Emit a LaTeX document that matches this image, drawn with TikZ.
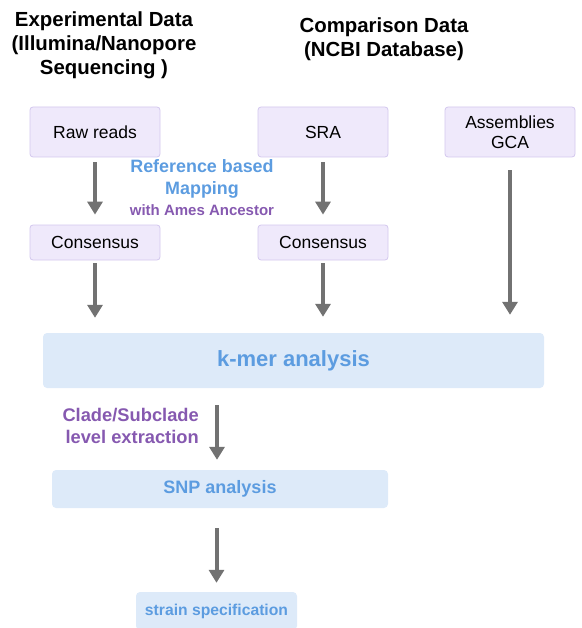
\documentclass[tikz,border=0pt]{standalone}
\usepackage{fontspec}
\setmainfont{Liberation Sans}
\usetikzlibrary{arrows.meta, positioning, calc}

\definecolor{lilacfill}{HTML}{EFE9FB}
\definecolor{lilacline}{HTML}{D3C7EE}
\definecolor{skyfill}{HTML}{DDEAF9}
\definecolor{skytext}{HTML}{5C9CE0}
\definecolor{plumtext}{HTML}{8659B0}
\definecolor{shaftgray}{HTML}{727272}

\begin{document}
\begin{tikzpicture}[
	x=1pt, y=-1pt,
	every node/.style={inner sep=0pt},
	title/.style={align=center, font=\fontsize{20.4}{24}\selectfont\bfseries},
	source/.style={rectangle, draw=lilacline, line width=0.8pt, fill=lilacfill, rounded corners=3pt, minimum width=130pt, align=center, font=\fontsize{17.5}{20}\selectfont},
	stage/.style={rectangle, fill=skyfill, rounded corners=4pt, text=skytext, align=center},
	flow/.style={draw=shaftgray, line width=4pt, -{Triangle[width=15pt,length=13pt]}}
]
\useasboundingbox (0,0) rectangle (581,628);

% Column headings
\node[title] (expTitle) at (104,45) {Experimental Data\\(Illumina/Nanopore\\Sequencing )};
\node[title] (cmpTitle) at (384,39) {Comparison Data\\(NCBI Database)};

% Input data
\node[source, minimum height=50pt] (rawReads) at (95,132) {Raw reads};
\node[source, minimum height=50pt] (sra) at (323,132) {SRA};
\node[source, minimum height=50pt] (gca) at (510,132) {Assemblies\\GCA};
\node[source, minimum height=35pt] (consA) at (95,242.5) {Consensus};
\node[source, minimum height=35pt] (consB) at (323,242.5) {Consensus};

% Mapping note
\node[align=center, text=skytext, font=\fontsize{17.9}{22}\selectfont\bfseries] (mapNote) at (202,179) {Reference based\\Mapping};
\node[text=plumtext, font=\fontsize{15}{17}\selectfont\bfseries] (ancNote) at (202,210) {with Ames Ancestor};

% Analysis stages
\node[stage, minimum width=501pt, minimum height=55pt, font=\fontsize{22}{26}\selectfont\bfseries] (kmer) at (293.5,360.5) {k-mer analysis};
\node[stage, minimum width=336pt, minimum height=38pt, font=\fontsize{18}{21}\selectfont\bfseries] (snp) at (220,489) {SNP analysis};
\node[stage, minimum width=161pt, minimum height=38pt, font=\fontsize{15.7}{18}\selectfont\bfseries] (strain) at (216.5,611) {strain specification};
\node[anchor=east, align=right, text=plumtext, font=\fontsize{18.3}{22}\selectfont\bfseries] (cladeNote) at (199,426) {Clade/Subclade\\level extraction};

% Arrows
\draw[flow, shorten <=5pt, shorten >=10pt] (rawReads) -- (consA);
\draw[flow, shorten <=5pt, shorten >=10pt] (sra) -- (consB);
\draw[flow, shorten <=3pt, shorten >=15pt] (consA.south) -- (consA.south |- kmer.north);
\draw[flow, shorten <=3pt, shorten >=16pt] (consB.south) -- (consB.south |- kmer.north);
\draw[flow, shorten <=13pt, shorten >=18pt] (gca.south) -- (gca.south |- kmer.north);
\draw[flow, shorten <=17pt, shorten >=10pt] ($(snp.north |- kmer.south)+(-3,0)$) -- ($(snp.north)+(-3,0)$);
\draw[flow, shorten <=20pt, shorten >=9pt] (snp.south -| strain.north) -- (strain.north);

\end{tikzpicture}
\end{document}
